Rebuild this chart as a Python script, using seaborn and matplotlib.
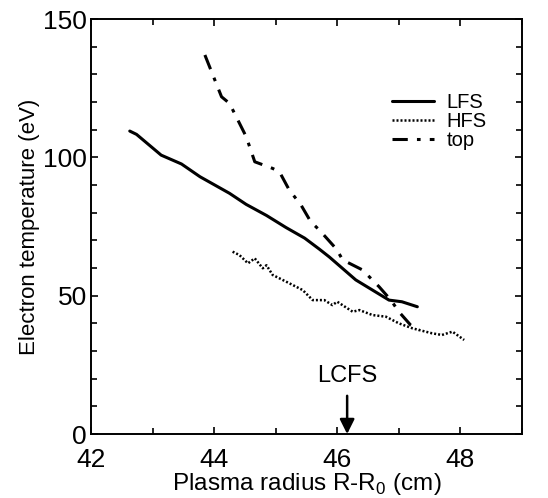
import numpy as np
import pandas as pd
import matplotlib
matplotlib.use("Agg")
import matplotlib.pyplot as plt
import seaborn as sns
from matplotlib.ticker import MultipleLocator

sns.set_theme(style="ticks")
plt.rcParams['font.family'] = ['Liberation Sans', 'DejaVu Sans']
plt.rcParams['text.color'] = 'black'
plt.rcParams['axes.labelcolor'] = 'black'
plt.rcParams['xtick.color'] = 'black'
plt.rcParams['ytick.color'] = 'black'

lfs_x = [42.63, 42.74, 43.14, 43.47, 43.77, 44.25, 44.52, 44.85, 45.17, 45.47, 45.71, 45.87, 46.3, 46.84, 47.05, 47.3]
lfs_y = [109.5, 108.3, 100.8, 97.6, 93.0, 87.0, 83.0, 79.0, 74.6, 70.8, 66.8, 64.0, 55.7, 48.4, 47.8, 46.0]

top_x = [43.85, 44.12, 44.25, 44.52, 44.66, 44.95, 45.06, 45.22, 45.41, 45.57, 45.71, 45.98, 46.09, 46.41, 46.68, 46.87, 47.0, 47.19, 47.33]
top_y = [137.0, 121.9, 119.5, 107.5, 98.4, 96.0, 94.8, 88.2, 82.8, 76.7, 73.7, 67.0, 62.9, 59.3, 53.2, 48.4, 44.2, 39.4, 37.6]

hfs_x = [44.3, 44.41, 44.55, 44.66, 44.79, 44.85, 44.95, 45.22, 45.44, 45.6, 45.79, 45.92, 46.0, 46.25, 46.36, 46.57, 46.79, 47.0, 47.22, 47.54, 47.7, 47.87, 48.06]
hfs_y = [65.9, 64.7, 61.7, 63.5, 59.9, 61.0, 57.5, 54.5, 52.0, 48.4, 48.4, 46.6, 47.8, 44.2, 44.8, 43.0, 42.4, 40.0, 38.2, 36.4, 35.8, 37.0, 34.0]

lcfs_x = 46.16
x_ticks = [42, 44, 46, 48]
y_ticks = [0, 50, 100, 150]

fig = plt.figure(figsize=(5.48, 4.98), dpi=100)
ax = fig.add_axes([0.166, 0.1285, 0.7866, 0.8333])

sns.lineplot(x=lfs_x, y=lfs_y, ax=ax, color='black', lw=2.2, label='LFS', sort=False)
sns.lineplot(x=hfs_x, y=hfs_y, ax=ax, color='black', lw=1.8, label='HFS', sort=False,
             linestyle=(0, (0.8, 0.8)))
sns.lineplot(x=top_x, y=top_y, ax=ax, color='black', lw=2.2, label='top', sort=False,
             linestyle=(0, (5, 3, 1.2, 3)))

ax.set_xlim(42, 49)
ax.set_ylim(0, 150)
ax.set_xticks(x_ticks)
ax.set_yticks(y_ticks)
ax.xaxis.set_minor_locator(MultipleLocator(1))
ax.yaxis.set_minor_locator(MultipleLocator(10))
ax.tick_params(which='both', direction='in', top=True, right=True, width=1.2, colors='black')
ax.tick_params(which='major', length=5, labelsize=19)
ax.tick_params(which='minor', length=4)
ax.tick_params(axis='x', which='major', pad=10, labeltop=False)
ax.tick_params(axis='y', which='major', pad=3, labelright=False)
for s in ax.spines.values():
    s.set_linewidth(1.4)
    s.set_color('black')
for lbl in ax.get_yticklabels():
    if lbl.get_text() == '0':
        lbl.set_va('center_baseline')

ax.set_xlabel(r'Plasma radius R-R$_\mathregular{0}$ (cm)', fontsize=17.5, labelpad=-1)
ax.set_ylabel('Electron temperature (eV)', fontsize=16, labelpad=2)

ax.annotate('LCFS', xy=(lcfs_x, 0), xytext=(lcfs_x, 17), ha='center', va='bottom',
            fontsize=17, arrowprops=dict(arrowstyle='-|>', color='black', lw=1.8,
                                         mutation_scale=22, shrinkA=4, shrinkB=0))

leg = ax.legend(loc='upper left', bbox_to_anchor=(0.68, 0.84), frameon=False, fontsize=14.5,
                handlelength=2.1, handletextpad=0.6, labelspacing=0.0, borderaxespad=0)

fig.savefig('out.png', dpi=100)
